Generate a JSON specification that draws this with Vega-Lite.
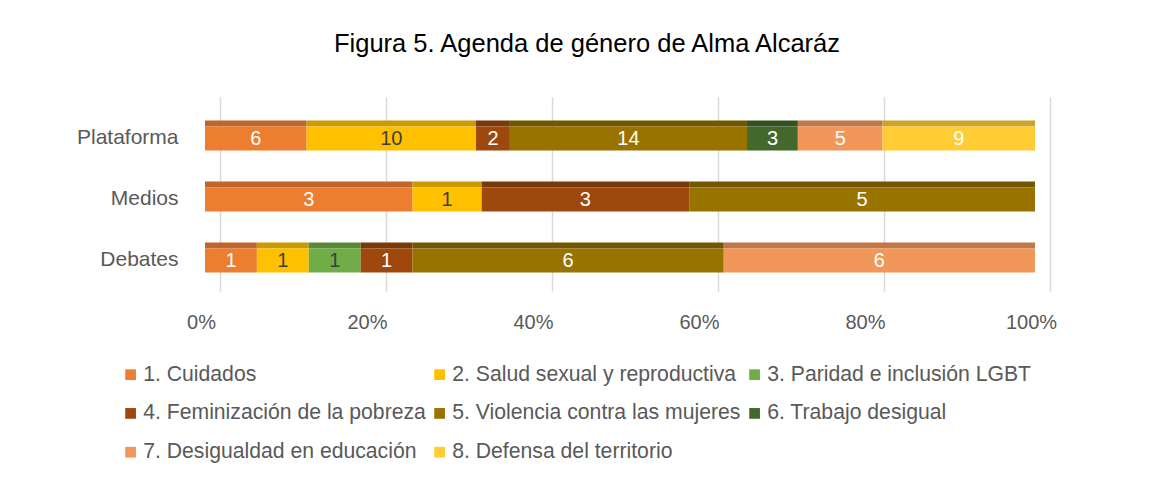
{
  "$schema": "https://vega.github.io/schema/vega-lite/v6.json",
  "width": 830,
  "height": 194,
  "autosize": {"type": "none"},
  "padding": {"left": 205, "top": 97, "right": 116, "bottom": 187},
  "background": "white",
  "config": {"view": {"stroke": null}, "font": "Liberation Sans"},
  "title": {
    "text": "Figura 5. Agenda de género de Alma Alcaráz",
    "fontSize": 25.5,
    "font": "Liberation Sans",
    "fontWeight": "normal",
    "color": "#000000",
    "anchor": "middle",
    "dx": -33,
    "offset": 40
  },
  "data": {
    "values": [
      {"medio": "Plataforma", "cat": "1. Cuidados", "n": 6, "o": 1},
      {"medio": "Plataforma", "cat": "2. Salud sexual y reproductiva", "n": 10, "o": 2},
      {"medio": "Plataforma", "cat": "4. Feminización de la pobreza", "n": 2, "o": 4},
      {"medio": "Plataforma", "cat": "5. Violencia contra las mujeres", "n": 14, "o": 5},
      {"medio": "Plataforma", "cat": "6. Trabajo desigual", "n": 3, "o": 6},
      {"medio": "Plataforma", "cat": "7. Desigualdad en educación", "n": 5, "o": 7},
      {"medio": "Plataforma", "cat": "8. Defensa del territorio", "n": 9, "o": 8},
      {"medio": "Medios", "cat": "1. Cuidados", "n": 3, "o": 1},
      {"medio": "Medios", "cat": "2. Salud sexual y reproductiva", "n": 1, "o": 2},
      {"medio": "Medios", "cat": "4. Feminización de la pobreza", "n": 3, "o": 4},
      {"medio": "Medios", "cat": "5. Violencia contra las mujeres", "n": 5, "o": 5},
      {"medio": "Debates", "cat": "1. Cuidados", "n": 1, "o": 1},
      {"medio": "Debates", "cat": "2. Salud sexual y reproductiva", "n": 1, "o": 2},
      {"medio": "Debates", "cat": "3. Paridad e inclusión LGBT", "n": 1, "o": 3},
      {"medio": "Debates", "cat": "4. Feminización de la pobreza", "n": 1, "o": 4},
      {"medio": "Debates", "cat": "5. Violencia contra las mujeres", "n": 6, "o": 5},
      {"medio": "Debates", "cat": "7. Desigualdad en educación", "n": 6, "o": 7}
    ]
  },
  "encoding": {
    "y": {
      "field": "medio",
      "type": "nominal",
      "sort": ["Plataforma", "Medios", "Debates"],
      "scale": {"paddingInner": 0, "paddingOuter": 0.09, "align": 1},
      "axis": {
        "title": null,
        "domain": false,
        "ticks": false,
        "grid": false,
        "labelFontSize": 21,
        "labelColor": "#595959",
        "labelPadding": 27
      }
    }
  },
  "layer": [
    {
      "mark": {"type": "bar", "height": 6, "yOffset": -15},
      "encoding": {
        "x": {
          "field": "n",
          "type": "quantitative",
          "stack": "normalize",
          "scale": {"domain": [0, 1], "nice": false},
          "axis": {
            "title": null,
            "format": "%",
            "values": [0, 0.2, 0.4, 0.6, 0.8, 1],
            "domain": false,
            "ticks": false,
            "grid": true,
            "gridColor": "#d9d9d9",
            "gridWidth": 1.5,
            "labelFlush": false,
            "labelFontSize": 20,
            "labelColor": "#595959",
            "labelPadding": 21,
            "labelOffset": -4,
            "encoding": {"grid": {"x": {"value": {"signal": "scale('x', datum.value) + 15"}}}}
          }
        },
        "color": {
          "field": "cat",
          "type": "nominal",
          "scale": {
            "domain": ["1. Cuidados", "2. Salud sexual y reproductiva", "3. Paridad e inclusión LGBT", "4. Feminización de la pobreza", "5. Violencia contra las mujeres", "6. Trabajo desigual", "7. Desigualdad en educación", "8. Defensa del territorio"],
            "range": ["#C0652B", "#CC9A00", "#5A8A39", "#7A380B", "#735700", "#34521F", "#C27749", "#CCA429"]
          },
          "legend": null
        },
        "order": {"field": "o", "type": "quantitative"}
      }
    },
    {
      "mark": {"type": "bar", "height": 24},
      "encoding": {
        "x": {"field": "n", "type": "quantitative", "stack": "normalize"},
        "color": {
          "field": "cat",
          "type": "nominal",
          "scale": {
            "domain": ["1. Cuidados", "2. Salud sexual y reproductiva", "3. Paridad e inclusión LGBT", "4. Feminización de la pobreza", "5. Violencia contra las mujeres", "6. Trabajo desigual", "7. Desigualdad en educación", "8. Defensa del territorio"],
            "range": ["#ED7D31", "#FFC000", "#70AD47", "#9E480E", "#997300", "#43682B", "#F1975A", "#FFCD33"]
          },
          "legend": {
            "title": null,
            "orient": "none",
            "direction": "horizontal",
            "legendX": -85,
            "legendY": 267,
            "columns": 3,
            "padding": 0,
            "symbolType": "square",
            "symbolSize": 115,
            "symbolStrokeWidth": 0,
            "labelFontSize": 21.2,
            "labelColor": "#595959",
            "labelOffset": 2,
            "labelLimit": 400,
            "rowPadding": 16.8,
            "columnPadding": 3
          }
        },
        "order": {"field": "o", "type": "quantitative"}
      }
    },
    {
      "mark": {"type": "text", "fontSize": 20, "baseline": "middle", "dy": 1},
      "encoding": {
        "x": {"field": "n", "type": "quantitative", "stack": "normalize", "bandPosition": 0.5},
        "detail": {"field": "cat"},
        "text": {"field": "n", "type": "quantitative"},
        "order": {"field": "o", "type": "quantitative"},
        "color": {
          "condition": {"test": "datum.cat === '2. Salud sexual y reproductiva' || datum.cat === '3. Paridad e inclusión LGBT'", "value": "#404040"},
          "value": "#FFFFFF"
        }
      }
    }
  ],
  "resolve": {"scale": {"color": "independent"}}
}
